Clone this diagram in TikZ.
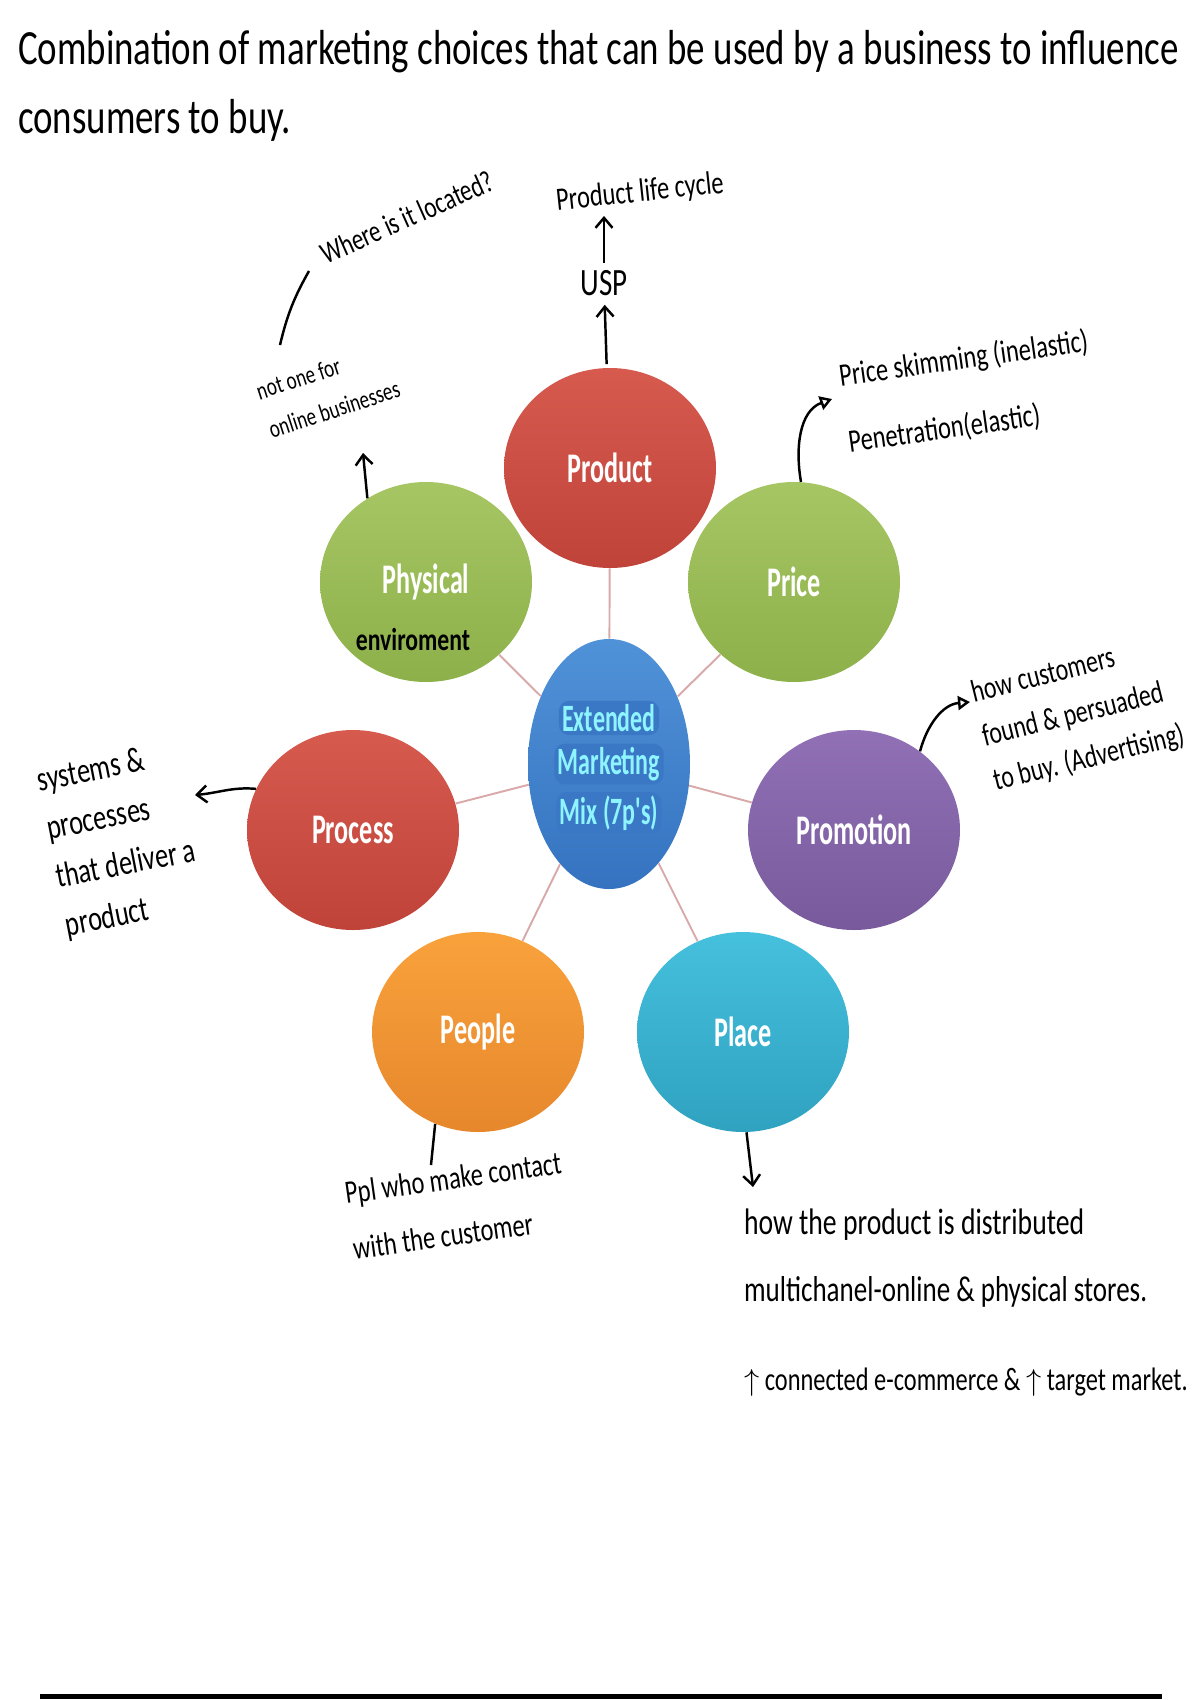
\documentclass[tikz,border=0pt]{standalone}
\usepackage{fontspec}
\setmainfont{Carlito}
\newfontfamily\handfont[FakeStretch=0.75]{Carlito}
\newfontfamily\labelfont[FakeStretch=0.62]{Carlito}
\usetikzlibrary{calc, shapes.geometric, arrows.meta}

\definecolor{redtop}{HTML}{D65A4E}
\definecolor{redbot}{HTML}{C0433A}
\definecolor{greentop}{HTML}{A6C663}
\definecolor{greenbot}{HTML}{8DB04A}
\definecolor{purpletop}{HTML}{9170B5}
\definecolor{purplebot}{HTML}{785A9C}
\definecolor{orangetop}{HTML}{F9A23C}
\definecolor{orangebot}{HTML}{E6872C}
\definecolor{tealtop}{HTML}{45C0DD}
\definecolor{tealbot}{HTML}{2FA2C0}
\definecolor{bluetop}{HTML}{5092D8}
\definecolor{bluebot}{HTML}{3573C0}
\definecolor{mixhl}{HTML}{3A78C6}
\definecolor{mixtext}{HTML}{8EF4FF}
\definecolor{spokepink}{HTML}{D9A9A9}

\begin{document}
\begin{tikzpicture}[
    hand/.style={font=\handfont\fontsize{17}{20}\selectfont, inner sep=1pt},
    hand_arrow/.style={line width=1.4pt, -{Straight Barb[length=2mm, width=3.4mm]}},
    hand_line/.style={line width=1.4pt},
    tri_arrow/.style={line width=1.4pt, -{Triangle[open, length=2.4mm, width=2.8mm]}},
    p_circle/.style={ellipse, minimum width=4.24cm, minimum height=4cm,
        inner sep=0pt, text=white, font=\labelfont\bfseries\fontsize{24}{28}\selectfont},
    mix_line/.style={fill=mixhl, rounded corners=6pt, text=mixtext, inner sep=2pt,
        minimum width=1.95cm, font=\labelfont\bfseries\fontsize{22}{26}\selectfont},
    spoke/.style={draw=spokepink, line width=1.1pt}
]

    \useasboundingbox (0, 0) rectangle (24, -34);

    % Title
    \node (title_a) at (0.32, -1.04) [hand, right, font=\handfont\fontsize{28}{32}\selectfont]
        {Combination of marketing choices that can be used by a business to influence};
    \node (title_b) at (0.32, -2.4) [hand, right, font=\handfont\fontsize{28}{32}\selectfont]
        {consumers to buy.};

    % Centre
    \node (mix) at (12.18, -15.28)
        [ellipse, minimum width=3.24cm, minimum height=5cm, inner sep=0pt,
         top color=bluetop, bottom color=bluebot] {};
    \node (mix_a) at ($(mix) + (0, 0.92)$) [mix_line] {Extended};
    \node (mix_b) at (mix) [mix_line] {Marketing};
    \node (mix_c) at ($(mix) + (0, -0.98)$) [mix_line] {Mix (7p's)};

    % The seven P's
    \node (product) at ($(mix) + (0.02, 5.92)$)
        [p_circle, top color=redtop, bottom color=redbot] {Product};
    \node (price) at ($(mix) + (3.7, 3.64)$)
        [p_circle, top color=greentop, bottom color=greenbot] {Price};
    \node (physical) at ($(mix) + (-3.66, 3.64)$)
        [p_circle, top color=greentop, bottom color=greenbot] {Physical};
    \node (process) at ($(mix) + (-5.12, -1.32)$)
        [p_circle, top color=redtop, bottom color=redbot] {Process};
    \node (promotion) at ($(mix) + (4.9, -1.32)$)
        [p_circle, top color=purpletop, bottom color=purplebot] {Promotion};
    \node (people) at ($(mix) + (-2.62, -5.36)$)
        [p_circle, top color=orangetop, bottom color=orangebot] {People};
    \node (place) at ($(mix) + (2.68, -5.36)$)
        [p_circle, top color=tealtop, bottom color=tealbot] {Place};

    \node (enviro) at ($(physical) + (-0.26, -1.16)$)
        [hand, font=\handfont\bfseries\fontsize{18}{20}\selectfont] {enviroment};

    \foreach \p in {product, price, physical, process, promotion, people, place}
        \draw [spoke] (mix) -- (\p);

    % Notes
    \node (life_cycle) at (12.8, -3.86) [hand, rotate=6, font=\handfont\fontsize{18.5}{20}\selectfont]
        {Product life cycle};
    \node (usp) at (12.08, -5.66) [hand, font=\handfont\fontsize{22}{24}\selectfont] {USP};
    \node (located) at (8.14, -4.34) [hand, rotate=24, font=\handfont\fontsize{17.5}{20}\selectfont]
        {Where is it located?};
    \node (online_note) at (6.56, -7.8)
        [hand, rotate=18, align=left, font=\handfont\fontsize{14.5}{23}\selectfont]
        {not one for\\online businesses};
    \node (price_note) at (16.84, -8.2)
        [hand, right, rotate=8, align=left, font=\handfont\fontsize{18.5}{38}\selectfont]
        {Price skimming (inelastic)\\Penetration(elastic)};
    \node (promo_note) at (19.62, -14.78)
        [hand, right, rotate=14, align=left, font=\handfont\fontsize{18}{26}\selectfont]
        {how customers\\found \& persuaded\\to buy. (Advertising)};
    \node (process_note) at (1.0, -17.1)
        [hand, right, rotate=11, align=left, font=\handfont\fontsize{20}{28}\selectfont]
        {systems \&\\processes\\that deliver a\\product};
    \node (people_note) at (6.94, -24.42)
        [hand, right, rotate=8, align=left, font=\handfont\fontsize{18.5}{32}\selectfont]
        {Ppl who make contact\\with the customer};
    \node (place_note_a) at (14.84, -24.5) [hand, right, font=\handfont\fontsize{21}{24}\selectfont]
        {how the product is distributed};
    \node (place_note_b) at (14.84, -25.84) [hand, right, font=\handfont\fontsize{20.5}{24}\selectfont]
        {multichanel-online \& physical stores.};
    \node (place_note_c) at (14.84, -27.64) [hand, right, font=\handfont\fontsize{18.5}{22}\selectfont]
        {$\uparrow$ connected e-commerce \& $\uparrow$ target market.};

    % Arrow ends
    \coordinate (online_tip) at (7.26, -9.06);
    \coordinate (located_end) at (6.18, -5.42);
    \coordinate (online_end) at (5.6, -6.9);
    \coordinate (price_tip) at (16.64, -7.98);
    \coordinate (promo_tip) at (19.4, -14.04);
    \coordinate (process_tip) at (3.9, -15.9);
    \coordinate (people_tip) at (8.62, -23.3);
    \coordinate (place_tip) at (15.06, -23.74);

    \draw [hand_arrow, shorten <=2pt, shorten >=4pt] (product) -- (usp);
    \draw [hand_arrow, shorten <=3pt, shorten >=4pt] (usp) -- (usp |- life_cycle.south);
    \draw [hand_arrow] (physical.125) -- (online_tip);
    \draw [hand_line] (online_end) to[bend left=8] (located_end);
    \draw [tri_arrow] (price.86) to[out=100, in=200] (price_tip);
    \draw [tri_arrow] (promotion.50) to[out=75, in=185] (promo_tip);
    \draw [hand_arrow] (process.157) to[out=175, in=5] (process_tip);
    \draw [hand_line] (people.245) -- (people_tip);
    \draw [hand_arrow] (place.272) -- (place_tip);

    \draw [line width=2.4pt] (0.8, -33.93) -- (23.24, -33.93);
\end{tikzpicture}
\end{document}
